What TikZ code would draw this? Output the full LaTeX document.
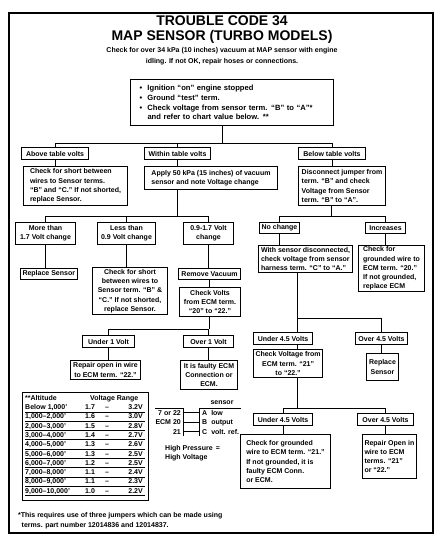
\documentclass[tikz,border=0pt]{standalone}
\usepackage{fontspec}
\setmainfont{Liberation Sans}
\newcommand\bxf{\fontsize{7}{9.3}\selectfont\bfseries}
\newcommand\topf{\fontsize{7.6}{9.6}\selectfont\bfseries}
\newcommand\subf{\fontsize{7}{11}\selectfont\bfseries}
\newcommand\ttf{\fontsize{14}{16}\selectfont\bfseries}
\newcommand\blt{\makebox[14pt][l]{\hspace{6pt}\textbullet}}
\begin{document}
\begin{tikzpicture}[x=1pt,y=-1pt,
  bx/.style={draw, line width=1pt, inner xsep=2pt, inner ysep=1.2pt, anchor=north west, font=\bxf},
  ln/.style={line width=0.8pt},
  tf/.style={font=\bxf, inner sep=0pt}]
\useasboundingbox (0,0) rectangle (443,546);
\fill[white] (0,0) rectangle (443,546);
\draw[line width=2.5pt] (9,13) rectangle (433,533);

\node[font=\ttf] (t1) at (222,21) {TROUBLE CODE 34};
\node[font=\ttf] (t2) at (222,37) {MAP SENSOR (TURBO MODELS)};
\node[font=\subf, align=center] (sub) at (222,56) {Check for over 34 kPa (10 inches) vacuum at MAP sensor with engine\\idling. If not OK, repair hoses or connections.};

\node[bx, font=\topf, align=left, text width=197pt, minimum height=46pt, inner xsep=3pt] (top) at (130,79)
 {\blt Ignition “on” engine stopped\\ \blt Ground “test” term.\\ \blt Check voltage from sensor term. “B” to “A”*\\ \hspace*{14pt}and refer to chart value below. **};

\node[bx, minimum width=67pt, minimum height=12pt] (above) at (21,147) {Above table volts};
\node[bx, minimum width=66pt, minimum height=12pt] (within) at (144,147) {Within table volts};
\node[bx, minimum width=67pt, minimum height=12pt] (below) at (298,147) {Below table volts};

\node[bx, align=left, minimum width=104pt, minimum height=39pt] (chk1) at (23,166)
 {Check for short between\\wires to Sensor terms.\\“B” and “C.” If not shorted,\\replace Sensor.};
\node[bx, align=left, minimum width=133pt, minimum height=23pt] (apply) at (144,166)
 {Apply 50 kPa (15 inches) of vacuum\\sensor and note Voltage change};
\node[bx, align=left, minimum width=87pt, minimum height=39pt] (disc) at (298,166)
 {Disconnect jumper from\\term. “B” and check\\Voltage from Sensor\\term. “B” to “A”.};

\node[bx, align=center, minimum width=60pt, minimum height=22pt] (more) at (15,222) {More than\\1.7 Volt change};
\node[bx, align=center, minimum width=58pt, minimum height=22pt] (less) at (97,222) {Less than\\0.9 Volt change};
\node[bx, align=center, minimum width=50pt, minimum height=22pt] (mid) at (183,222) {0.9-1.7 Volt\\change};
\node[bx, minimum width=40pt, minimum height=11pt] (nochg) at (259,222) {No change};
\node[bx, minimum width=40pt, minimum height=11pt] (incr) at (365,222) {Increases};

\node[bx, minimum width=56pt, minimum height=11pt] (rs1) at (20,268) {Replace Sensor};
\node[bx, align=center, minimum width=75pt, minimum height=47pt] (chk2) at (92,267)
 {Check for short\\between wires to\\Sensor term. “B” \&\\“C.” If not shorted,\\replace Sensor.};
\node[bx, minimum width=62pt, minimum height=11pt] (remv) at (178,268) {Remove Vacuum};
\node[bx, align=center, minimum width=61pt, minimum height=29pt] (chkv) at (179,287)
 {Check Volts\\from ECM term.\\“20” to “22.”};
\node[bx, align=left, minimum width=94pt, minimum height=27pt] (withs) at (258,245)
 {With sensor disconnected,\\check voltage from sensor\\harness term. “C” to “A.”};
\node[bx, align=left, minimum width=66pt, minimum height=46pt] (grd1) at (358,245)
 {Check for\\grounded wire to\\ECM term. “20.”\\If not grounded,\\replace ECM};

\node[bx, minimum width=52pt, minimum height=12pt] (u1) at (82,335) {Under 1 Volt};
\node[bx, minimum width=50pt, minimum height=12pt] (o1) at (183,335) {Over 1 Volt};
\node[bx, align=center, minimum width=70pt, minimum height=19pt] (rep22) at (70,360)
 {Repair open in wire\\to ECM term. “22.”};
\node[bx, align=center, minimum width=57pt, minimum height=29pt] (faulty) at (180,360)
 {It is faulty ECM\\Connection or\\ECM.};

\node[bx, minimum width=59pt, minimum height=12pt] (u45a) at (253,332) {Under 4.5 Volts};
\node[bx, minimum width=52pt, minimum height=12pt] (o45a) at (355,332) {Over 4.5 Volts};
\node[bx, align=center, minimum width=62pt, minimum height=28pt] (chkv21) at (253,349)
 {Check Voltage from\\ECM term. “21”\\to “22.”};
\node[bx, align=center, minimum width=32pt, minimum height=27pt] (rs2) at (366,353) {Replace\\Sensor};

\node[bx, minimum width=59pt, minimum height=12pt] (u45b) at (253,413) {Under 4.5 Volts};
\node[bx, minimum width=56pt, minimum height=12pt] (o45b) at (357,413) {Over 4.5 Volts};
\node[bx, align=left, minimum width=90pt, minimum height=54pt] (grd2) at (240,434)
 {Check for grounded\\wire to ECM term. “21.”\\If not grounded, it is\\faulty ECM Conn.\\or ECM.};
\node[bx, align=left, minimum width=53pt, minimum height=44pt] (rep2122) at (362,434)
 {Repair Open in\\wire to ECM\\terms. “21”\\or “22.”};

% connectors
\coordinate (j1) at (222,143);
\draw[ln] (top.south -| j1) -- (j1);
\draw[ln] (above.north) |- (below.north |- j1) -- (below.north);
\draw[ln] (within.north) -- (within.north |- j1);
\draw[ln] (above.south) -- (above.south |- chk1.north);
\draw[ln] (within.south) -- (within.south |- apply.north);
\draw[ln] (below.south) -- (below.south |- disc.north);
\coordinate (j2) at (177,216);
\draw[ln] (apply.south -| j2) -- (j2);
\draw[ln] (more.north) |- (mid.north |- j2) -- (mid.north);
\draw[ln] (less.north) -- (less.north |- j2);
\coordinate (j3) at (331,216);
\draw[ln] (disc.south -| j3) -- (j3);
\draw[ln] (nochg.north) |- (incr.north |- j3) -- (incr.north);
\draw[ln] (more.south) -- (more.south |- rs1.north);
\draw[ln] (less.south) -- (less.south |- chk2.north);
\draw[ln] (mid.south) -- (mid.south |- remv.north);
\draw[ln] (remv.south) -- (remv.south |- chkv.north);
\draw[ln] (nochg.south) -- (nochg.south |- withs.north);
\draw[ln] (incr.south) -- (incr.south |- grd1.north);
\coordinate (j4) at (209,329);
\draw[ln] (chkv.south -| j4) -- (j4);
\draw[ln] (u1.north) |- (o1.north |- j4) -- (o1.north);
\draw[ln] (u1.south) -- (u1.south |- rep22.north);
\draw[ln] (o1.south) -- (o1.south |- faulty.north);
\coordinate (j5) at (297,318);
\draw[ln] (withs.south -| j5) -- (u45a.north -| j5);
\draw[ln] (j5) -| (o45a.north);
\draw[ln] (u45a.south -| j5) -- (chkv21.north -| j5);
\draw[ln] (o45a.south) -- (o45a.south |- rs2.north);
\coordinate (j6) at (297,408);
\draw[ln] (chkv21.south -| j6) -- (j6);
\draw[ln] (u45b.north) |- (o45b.north |- j6) -- (o45b.north);
\draw[ln] (u45b.south) -- (u45b.south |- grd2.north);
\draw[ln] (o45b.south) -- (o45b.south |- rep2122.north);

% altitude table
\node[draw, line width=1pt, anchor=north west, minimum width=126pt, minimum height=108pt, inner sep=0pt] (tbl) at (22,392) {};
\node[tf, anchor=base west] (hA) at (25,400.5) {**Altitude};
\node[tf, anchor=base west] (hV) at (90,400.5) {Voltage Range};
\foreach \a/\l/\h [count=\i from 0] in {{Below 1,000'}/1.7/3.2V, {1,000–2,000'}/1.6/3.0V, {2,000–3,000'}/1.5/2.8V, {3,000–4,000'}/1.4/2.7V, {4,000–5,000'}/1.3/2.6V, {5,000–6,000'}/1.3/2.5V, {6,000–7,000'}/1.2/2.5V, {7,000–8,000'}/1.1/2.4V, {8,000–9,000'}/1.1/2.3V, {9,000–10,000'}/1.0/2.2V}{
  \node[tf, anchor=base west] (ra\i) at (25,{409.5+9.3*\i}) {\a};
  \node[tf, anchor=base west] (rl\i) at (85,{409.5+9.3*\i}) {\l};
  \node[tf, anchor=base] (rd\i) at (107,{409.5+9.3*\i}) {–};
  \node[tf, anchor=base east] (rh\i) at (143,{409.5+9.3*\i}) {\h};
  \draw[line width=0.6pt] (25,{411.8+9.3*\i}) -- (145,{411.8+9.3*\i});
}

% connector sketch
\draw[ln] (155,408) -- (183,408) -- (183,436);
\draw[ln] (199,436) -- (199,408) -- (241,408);
\node[tf, anchor=base] (sens) at (222,404.5) {sensor};
\node[tf, anchor=base east] (e1) at (181,415) {7 or 22};
\node[tf, anchor=base east] (e2) at (181,424.5) {ECM 20};
\node[tf, anchor=base east] (e3) at (181,434) {21};
\node[tf, anchor=base west] (s1) at (202,415) {A\hspace{4pt}low};
\node[tf, anchor=base west] (s2) at (202,424.5) {B\hspace{4pt}output};
\node[tf, anchor=base west] (s3) at (202,434) {C\hspace{4pt}volt. ref.};
\draw[ln] (183,412.5) -- (199,412.5);
\draw[ln] (183,422) -- (199,422);
\draw[ln] (183,431.5) -- (199,431.5);
\node[tf, anchor=base west, align=left] (hp) at (165,450.5) {High Pressure \,=};
\node[tf, anchor=base west] (hv) at (165,459.5) {High Voltage};

% footnote
\node[tf, anchor=base west] (fn1) at (18,517.5) {*This requires use of three jumpers which can be made using};
\node[tf, anchor=base west] (fn2) at (21.5,527) {terms. part number 12014836 and 12014837.};
\end{tikzpicture}
\end{document}
